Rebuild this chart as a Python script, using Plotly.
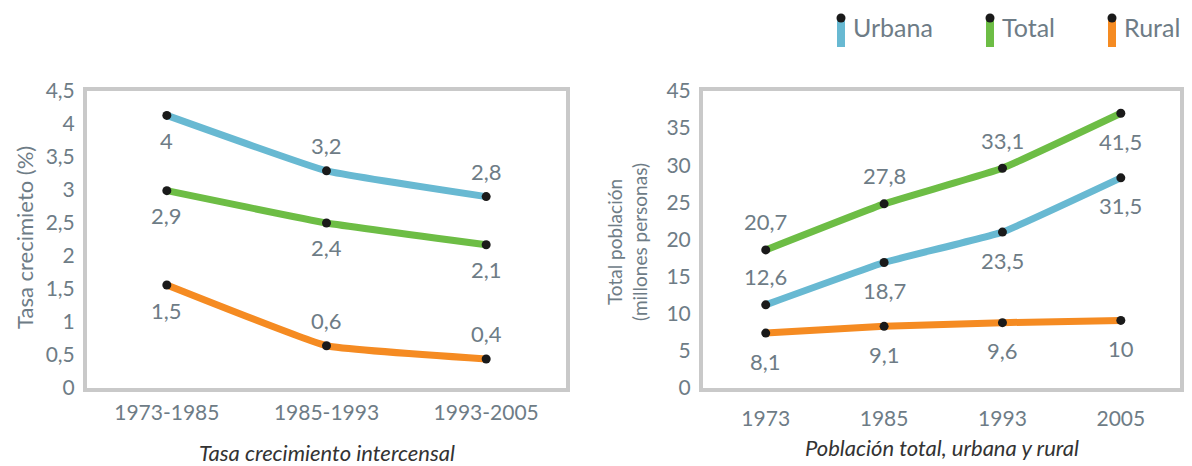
import plotly.graph_objects as go

# left panel: tasa de crecimiento intercensal (%)
periods = ["1973-1985", "1985-1993", "1993-2005"]
tasa_urbana = [4.13, 3.29, 2.90]
tasa_total = [2.99, 2.50, 2.17]
tasa_rural = [1.56, 0.64, 0.44]
tasa_urbana_txt = ["4", "3,2", "2,8"]
tasa_total_txt = ["2,9", "2,4", "2,1"]
tasa_rural_txt = ["1,5", "0,6", "0,4"]

# right panel: poblacion (millones)
years = ["1973", "1985", "1993", "2005"]
pob_urbana = [11.2, 16.9, 21.0, 28.3]
pob_total = [18.6, 24.8, 29.6, 37.0]
pob_rural = [7.4, 8.3, 8.8, 9.1]
pob_urbana_txt = ["12,6", "18,7", "23,5", "31,5"]
pob_total_txt = ["20,7", "27,8", "33,1", "41,5"]
pob_rural_txt = ["8,1", "9,1", "9,6", "10"]

pob_tickvals = [0, 5, 10, 15, 20, 25, 30, 35, 40]
pob_ticktext = ["0", "5", "10", "15", "20", "25", "30", "35", "45"]

BLUE = "#68b9d2"
GREEN = "#6dbd45"
ORANGE = "#f58b22"
GRAY_TXT = "#6e7c86"
BOX = "#c9c9c9"
FONT = "Lato"
W, H = 1192, 466
OFF = 8  # page body margin, figure is drawn 8px in from the window corner


def fx(px):
    return (px - OFF) / W


def fy(py):
    return 1 - (py - OFF) / H


# which side of the point each value label sits on (1 = above, -1 = below)
side_tasa = {"urbana": [-1, 1, 1], "total": [-1, -1, -1], "rural": [-1, 1, 1]}
side_pob = {"urbana": [1, -1, -1, -1], "total": [1, 1, 1, -1], "rural": [-1, -1, -1, -1]}

series_left = [
    ("urbana", tasa_urbana, tasa_urbana_txt, BLUE),
    ("total", tasa_total, tasa_total_txt, GREEN),
    ("rural", tasa_rural, tasa_rural_txt, ORANGE),
]
series_right = [
    ("urbana", pob_urbana, pob_urbana_txt, BLUE),
    ("total", pob_total, pob_total_txt, GREEN),
    ("rural", pob_rural, pob_rural_txt, ORANGE),
]

fig = go.Figure()
annotations = []

for name, vals, txt, color in series_left:
    fig.add_trace(go.Scatter(
        x=periods, y=vals, mode="lines+markers", xaxis="x", yaxis="y",
        line=dict(color=color, width=7, shape="spline", smoothing=0.3),
        marker=dict(color="#1a1a1a", size=9),
        showlegend=False, hoverinfo="skip",
    ))
    for i, (yv, t, s) in enumerate(zip(vals, txt, side_tasa[name])):
        annotations.append(dict(
            x=i, y=yv, xref="x", yref="y", text=t, showarrow=False,
            yshift=25 * s, font=dict(size=22, color=GRAY_TXT, family=FONT),
        ))

for name, vals, txt, color in series_right:
    fig.add_trace(go.Scatter(
        x=years, y=vals, mode="lines+markers", xaxis="x2", yaxis="y2",
        line=dict(color=color, width=7, shape="spline", smoothing=0.3),
        marker=dict(color="#1a1a1a", size=9),
        showlegend=False, hoverinfo="skip",
    ))
    for i, (yv, t, s) in enumerate(zip(vals, txt, side_pob[name])):
        annotations.append(dict(
            x=i, y=yv, xref="x2", yref="y2", text=t, showarrow=False,
            yshift=28 * s, font=dict(size=22, color=GRAY_TXT, family=FONT),
        ))

# axis titles
annotations += [
    dict(x=fx(24), y=fy(238), xref="paper", yref="paper", xanchor="center", yanchor="middle",
         text="Tasa crecimieto (%)", textangle=-90, showarrow=False,
         font=dict(size=22, color=GRAY_TXT, family=FONT)),
    dict(x=fx(627), y=fy(242), xref="paper", yref="paper", xanchor="center", yanchor="middle",
         text="Total población<br>(millones personas)", textangle=-90, showarrow=False,
         font=dict(size=19, color=GRAY_TXT, family=FONT)),
    dict(x=fx(327), y=fy(452), xref="paper", yref="paper", xanchor="center", yanchor="middle",
         text="<i>Tasa crecimiento intercensal</i>", showarrow=False,
         font=dict(size=22, color="#333333", family=FONT)),
    dict(x=fx(942), y=fy(447), xref="paper", yref="paper", xanchor="center", yanchor="middle",
         text="<i>Población total, urbana y rural</i>", showarrow=False,
         font=dict(size=22, color="#333333", family=FONT)),
]

# custom legend: vertical colour bar with black dot on top
legend_items = [("Urbana", BLUE, 841), ("Total", GREEN, 990), ("Rural", ORANGE, 1112)]
shapes = []
for label, color, px in legend_items:
    shapes.append(dict(type="rect", xref="paper", yref="paper",
                       x0=fx(px - 4), x1=fx(px + 4), y0=fy(47), y1=fy(16),
                       fillcolor=color, line=dict(width=0)))
    shapes.append(dict(type="circle", xref="paper", yref="paper",
                       x0=fx(px - 4.5), x1=fx(px + 4.5), y0=fy(22.5), y1=fy(13.5),
                       fillcolor="#1a1a1a", line=dict(width=0)))
    annotations.append(dict(x=fx(px + 10), y=fy(27), xref="paper", yref="paper",
                            xanchor="left", yanchor="middle", text=label, showarrow=False,
                            font=dict(size=25, color=GRAY_TXT, family=FONT)))

axis_common = dict(
    showline=True, mirror=True, linewidth=4, linecolor=BOX,
    showgrid=False, zeroline=False, ticks="", automargin=False,
    tickfont=dict(size=21, color=GRAY_TXT, family=FONT),
)

fig.update_layout(
    width=W, height=H,
    margin=dict(l=0, r=0, t=0, b=0),
    paper_bgcolor="white", plot_bgcolor="white",
    separators=",.",
    font=dict(family=FONT, color=GRAY_TXT),
    xaxis=dict(domain=[fx(87), fx(566)], range=[-0.5, 2.5], type="category",
               ticklabelstandoff=3, **axis_common),
    yaxis=dict(domain=[fy(388), fy(91)], range=[0, 4.5], dtick=0.5,
               ticklabelstandoff=4, **axis_common),
    xaxis2=dict(domain=[fx(703), fx(1180)], range=[-0.53, 3.5], type="category",
                ticklabelstandoff=9, anchor="y2", **axis_common),
    yaxis2=dict(domain=[fy(388), fy(91)], range=[0, 40],
                tickvals=pob_tickvals, ticktext=pob_ticktext,
                ticklabelstandoff=4, anchor="x2", **axis_common),
    annotations=annotations,
    shapes=shapes,
)

fig.write_html("out.html")
